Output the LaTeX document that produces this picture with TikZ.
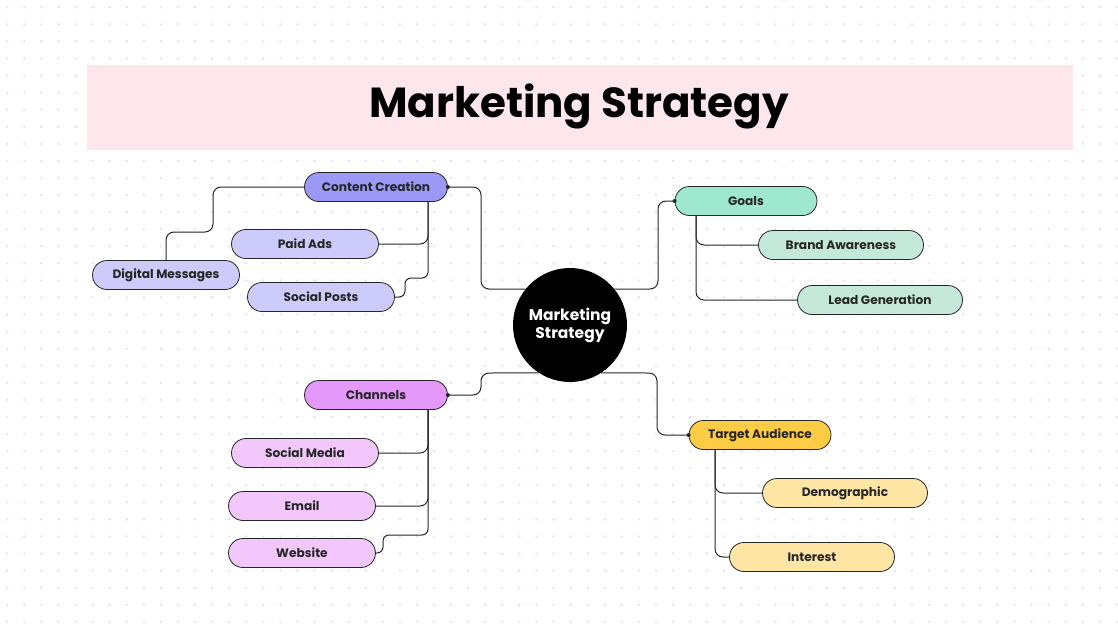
\documentclass[tikz,border=0pt]{standalone}
\usepackage{fontspec}
\setmainfont{Poppins}
\definecolor{ink}{HTML}{262626}
\definecolor{grid}{HTML}{E3E5EC}
\definecolor{band}{HTML}{FDE6EC}
\definecolor{ccmain}{HTML}{9C98F6}
\definecolor{ccleaf}{HTML}{CDCBFB}
\definecolor{gomain}{HTML}{9DE8CF}
\definecolor{goleaf}{HTML}{C4E9DA}
\definecolor{chmain}{HTML}{E398FA}
\definecolor{chleaf}{HTML}{F1C7FC}
\definecolor{tamain}{HTML}{FFCC45}
\definecolor{taleaf}{HTML}{FFE6A4}
\tikzset{%
  pill/.style={draw=ink, line width=0.8pt, rounded corners=14.5pt, minimum height=29pt,
    inner sep=0pt, text=ink, font=\bfseries\fontsize{12.2}{14}\selectfont},
  topic/.style={pill, minimum width=143pt},
  leaf/.style={pill, minimum width=147pt},
  wideleaf/.style={pill, minimum width=165pt},
  link/.style={draw=ink, line width=1pt, rounded corners=8pt},
  tip/.style={fill=ink}
}

\begin{document}
\begin{tikzpicture}[x=1pt, y=-1pt]
\useasboundingbox (0,0) rectangle (1118,637);

% dotted background
\foreach \i in {0,...,65}
  \foreach \j in {0,...,36}
    \fill[grid] ({7.3+17.07*\i},{7.3+17.07*\j}) circle (1.4pt);

% title band
\fill[band] (87,65) rectangle (1073,150);
\node[font=\bfseries\fontsize{42}{46}\selectfont, text=black] (title) at (579,106) {Marketing Strategy};

% hub
\node[circle, fill=black, minimum size=114pt, inner sep=0pt, align=center, text=white,
  font=\bfseries\fontsize{15.5}{18}\selectfont] (hub) at (570,325) {Marketing\\Strategy};

% content creation
\node[topic, fill=ccmain] (cc) at (376,187) {Content Creation};
\node[leaf, fill=ccleaf] (paid) at (305,244) {Paid Ads};
\node[leaf, fill=ccleaf] (dm) at (166,275) {Digital Messages};
\node[leaf, fill=ccleaf] (posts) at (321,297) {Social Posts};

% goals
\node[topic, minimum width=142pt, fill=gomain] (goals) at (746,201) {Goals};
\node[wideleaf, fill=goleaf] (brand) at (841,245) {Brand Awareness};
\node[wideleaf, fill=goleaf] (lead) at (880,300) {Lead Generation};

% channels
\node[topic, fill=chmain] (chan) at (376,395) {Channels};
\node[leaf, fill=chleaf] (smedia) at (305,453) {Social Media};
\node[leaf, fill=chleaf] (email) at (302,506) {Email};
\node[leaf, fill=chleaf] (web) at (302,553) {Website};

% target audience
\node[topic, minimum width=142pt, fill=tamain] (target) at (760,435) {Target Audience};
\node[wideleaf, fill=taleaf] (demo) at (845,493) {Demographic};
\node[wideleaf, fill=taleaf] (interest) at (812,557) {Interest};

% hub to topics
\draw[link] (hub.141) -- (481,289) -- (481,187) -- (cc.east);
\draw[link] (hub.39) -- (658,289) -- (658,201) -- (goals.west);
\draw[link] (hub.-123) -- (481,373) -- (481,395) -- (chan.east);
\draw[link] (hub.-57) -- (657,373) -- (657,435) -- (target.west);
\fill[tip] (cc.east) circle (2pt);
\fill[tip] (goals.west) circle (2pt);
\fill[tip] (chan.east) circle (2pt);
\fill[tip] (target.west) circle (2pt);

% topics to leaves
\draw[link] (428,202) -- (428,244) -- (paid.east);
\draw[link, rounded corners=6pt] (428,202) -- (428,278) -- (405,278) -- (405,297) -- (posts.east);
\draw[link] (dm.north) -- (166,232) -- (213,232) -- (213,187) -- (cc.west);

\draw[link] (696,215) -- (696,245) -- (brand.west);
\draw[link] (696,215) -- (696,300) -- (lead.west);

\draw[link] (428,409) -- (428,453) -- (smedia.east);
\draw[link] (428,409) -- (428,506) -- (email.east);
\draw[link, rounded corners=6pt] (428,409) -- (428,535) -- (383,535) -- (383,553) -- (web.east);

\draw[link] (715,449) -- (715,493) -- (demo.west);
\draw[link] (715,449) -- (715,557) -- (interest.west);

\end{tikzpicture}
\end{document}
